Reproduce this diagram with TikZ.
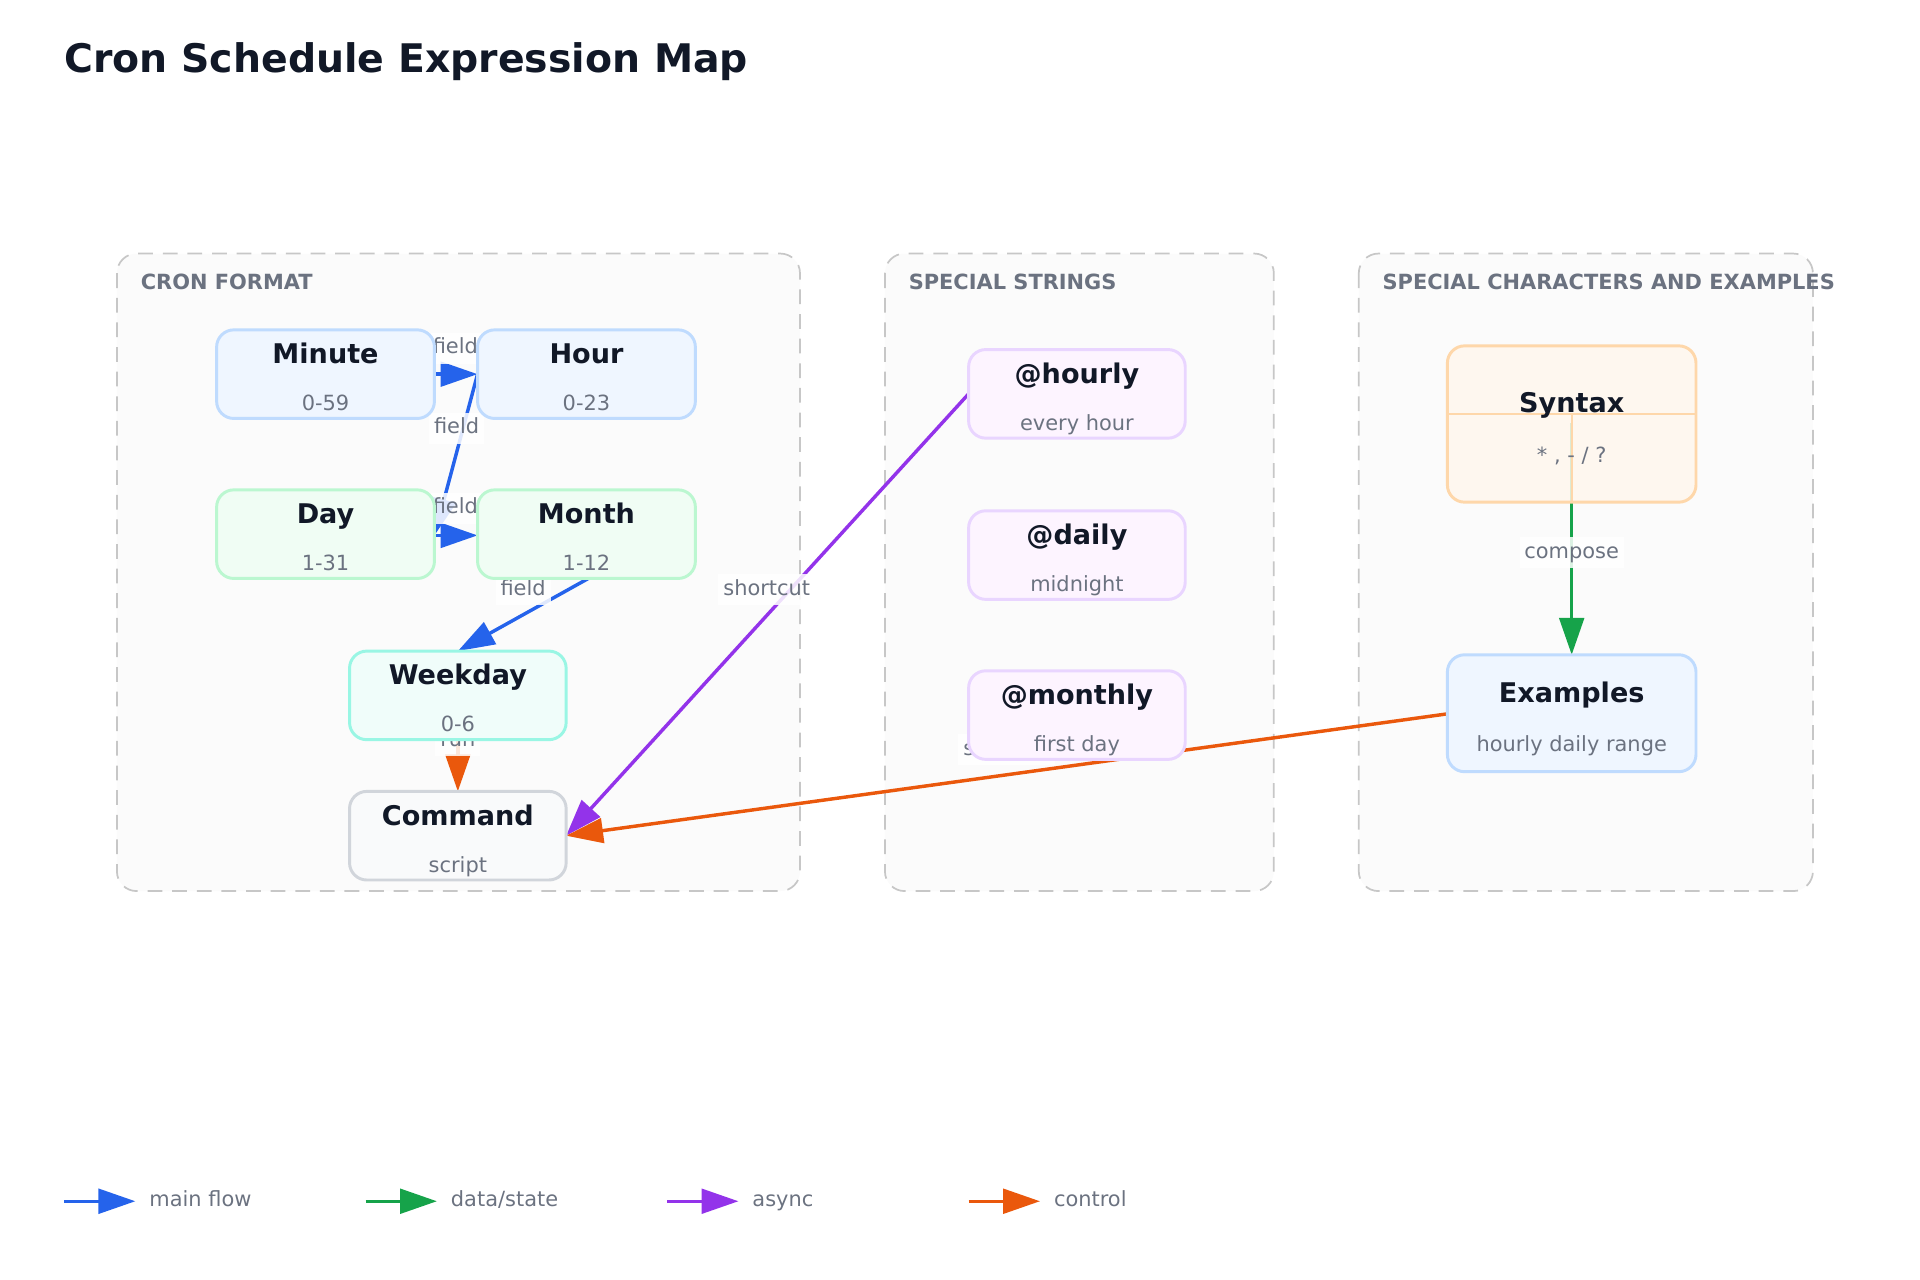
\documentclass[tikz,border=0pt]{standalone}
\usepackage{fontspec}
\setmainfont{DejaVu Sans}
\usetikzlibrary{arrows.meta}
\definecolor{cblue}{HTML}{2563EB}
\definecolor{cgreen}{HTML}{16A34A}
\definecolor{cpurple}{HTML}{9333EA}
\definecolor{corange}{HTML}{EA580C}
\definecolor{ctitle}{HTML}{111827}
\definecolor{cgray}{HTML}{6B7280}
\definecolor{sblue}{HTML}{BFDBFE}\definecolor{fblue}{HTML}{EFF6FF}
\definecolor{sgreen}{HTML}{BBF7D0}\definecolor{fgreen}{HTML}{F0FDF4}
\definecolor{steal}{HTML}{99F6E4}\definecolor{fteal}{HTML}{F0FDFA}
\definecolor{sgray}{HTML}{D1D5DB}\definecolor{fgray}{HTML}{F9FAFB}
\definecolor{spurp}{HTML}{E9D5FF}\definecolor{fpurp}{HTML}{FDF4FF}
\definecolor{sorange}{HTML}{FED7AA}\definecolor{forange}{HTML}{FFF7ED}
\tikzset{
  x=0.5pt,y=-0.5pt,
  grp/.style={draw=black!22,dash pattern=on 6pt off 4pt,rounded corners=8pt,fill=black!1.5,line width=0.7pt},
  box/.style={draw=#1,rounded corners=7pt,line width=1.2pt,inner sep=0pt},
  ttl/.style={font=\bfseries\fontsize{11}{13}\selectfont,text=ctitle,text height=8pt,text depth=2.5pt},
  sub/.style={font=\fontsize{8.5}{10}\selectfont,text=cgray,text height=6.5pt,text depth=2pt},
  hd/.style={font=\bfseries\fontsize{8.5}{10}\selectfont,text=cgray,anchor=west,inner sep=0pt},
  lab/.style={font=\fontsize{8.5}{10}\selectfont,text=cgray,fill=white,fill opacity=0.85,text opacity=1,inner sep=2pt,text height=6.5pt,text depth=2pt},
  edge/.style={line width=1.4pt,draw=#1,-{Triangle[length=15pt,width=10pt]}},
}
\newcommand{\bx}[9]{%
  \node[box=#6,fill=#7,minimum width={(#4-#2)*0.5pt},minimum height={(#5-#3)*0.5pt}] (#1) at ({(#2+#4)/2},{(#3+#5)/2}) {};
  \node[ttl] (#1t) at ({(#2+#4)/2},{#3+22}) {#8};
  \node[sub] (#1s) at ({(#2+#4)/2},{#5-11}) {#9};}
\begin{document}
\begin{tikzpicture}
\useasboundingbox (0,0) rectangle (1560,1040);
\node[anchor=west,inner sep=0pt,font=\bfseries\fontsize{16}{20}\selectfont,text=ctitle] (title) at (52,50) {Cron Schedule Expression Map};
\draw[grp] (95,206) rectangle (650,724);
\draw[grp] (719,206) rectangle (1035,724);
\draw[grp] (1104,206) rectangle (1473,724);
\node[hd] (h1) at (114,229) {CRON FORMAT};
\node[hd] (h2) at (738,229) {SPECIAL STRINGS};
\node[hd] (h3) at (1123,229) {SPECIAL CHARACTERS AND EXAMPLES};
\coordinate (minE) at (353,304); \coordinate (hourW) at (388,304);
\coordinate (dayE) at (353,435); \coordinate (monW) at (388,435);
\coordinate (monS) at (478,470); \coordinate (wkN) at (372,529);
\coordinate (wkS) at (372,601); \coordinate (cmdN) at (372,643);
\coordinate (cmdE) at (460,679); \coordinate (hrW) at (787,320);
\coordinate (exW) at (1176,580); \coordinate (syC) at (1277,344); \coordinate (exN) at (1277,532);
\draw[edge=cblue] (minE) -- (hourW);
\node[lab] (l1) at (370,283) {field};
\draw[edge=cblue] (hourW) -- (dayE);
\node[lab] (l2) at (371,348) {field};
\draw[edge=cblue] (dayE) -- (monW);
\node[lab] (l3) at (370,413) {field};
\draw[edge=cblue] (monS) -- (wkN);
\node[lab] (l4) at (425,479) {field};
\draw[edge=corange] (wkS) -- (cmdN);
\node[lab] (l5) at (372,602) {run};
\draw[edge=cpurple] (hrW) -- (cmdE);
\node[lab] (l6) at (623,479) {shortcut};
\draw[edge=corange] (exW) -- (cmdE);
\node[lab] (l7) at (818,609) {shortcut};
\draw[edge=cgreen] (syC) -- (exN);
\node[lab] (l8) at (1277,449) {compose};
\bx{minute}{176}{268}{353}{340}{sblue}{fblue}{Minute}{0-59}
\bx{hour}{388}{268}{565}{340}{sblue}{fblue}{Hour}{0-23}
\bx{day}{176}{398}{353}{470}{sgreen}{fgreen}{Day}{1-31}
\bx{month}{388}{398}{565}{470}{sgreen}{fgreen}{Month}{1-12}
\bx{weekday}{284}{529}{460}{601}{steal}{fteal}{Weekday}{0-6}
\bx{command}{284}{643}{460}{715}{sgray}{fgray}{Command}{script}
\bx{hourly}{787}{284}{963}{356}{spurp}{fpurp}{@hourly}{every hour}
\bx{daily}{787}{415}{963}{487}{spurp}{fpurp}{@daily}{midnight}
\bx{monthly}{787}{545}{963}{617}{spurp}{fpurp}{@monthly}{first day}
\node[box=sorange,fill=forange,fill opacity=0.85,minimum width=101pt,minimum height=63.5pt] (syntax) at (1277,344.5) {};
\draw[sorange,line width=0.8pt] (1176,336) -- (1378,336);
\draw[sorange,line width=0.8pt] (1277,336) -- (1277,408);
\node[ttl] (syntaxt) at (1277,330) {Syntax};
\node[sub] (syntaxs) at (1277,371) {* , - / ?};
\node[box=sblue,fill=fblue,minimum width=101pt,minimum height=47.5pt] (examples) at (1277,579.5) {};
\node[ttl] (examplest) at (1277,565) {Examples};
\node[sub] (exampless) at (1277,606) {hourly daily range};
\coordinate (a1) at (52,976); \coordinate (b1) at (110,976);
\coordinate (a2) at (297,976); \coordinate (b2) at (355,976);
\coordinate (a3) at (542,976); \coordinate (b3) at (600,976);
\coordinate (a4) at (787,976); \coordinate (b4) at (845,976);
\draw[edge=cblue] (a1) -- (b1); \node[sub,anchor=west,inner sep=0pt] (g1) at (121,976) {main flow};
\draw[edge=cgreen] (a2) -- (b2); \node[sub,anchor=west,inner sep=0pt] (g2) at (366,976) {data/state};
\draw[edge=cpurple] (a3) -- (b3); \node[sub,anchor=west,inner sep=0pt] (g3) at (611,976) {async};
\draw[edge=corange] (a4) -- (b4); \node[sub,anchor=west,inner sep=0pt] (g4) at (856,976) {control};
\end{tikzpicture}
\end{document}
